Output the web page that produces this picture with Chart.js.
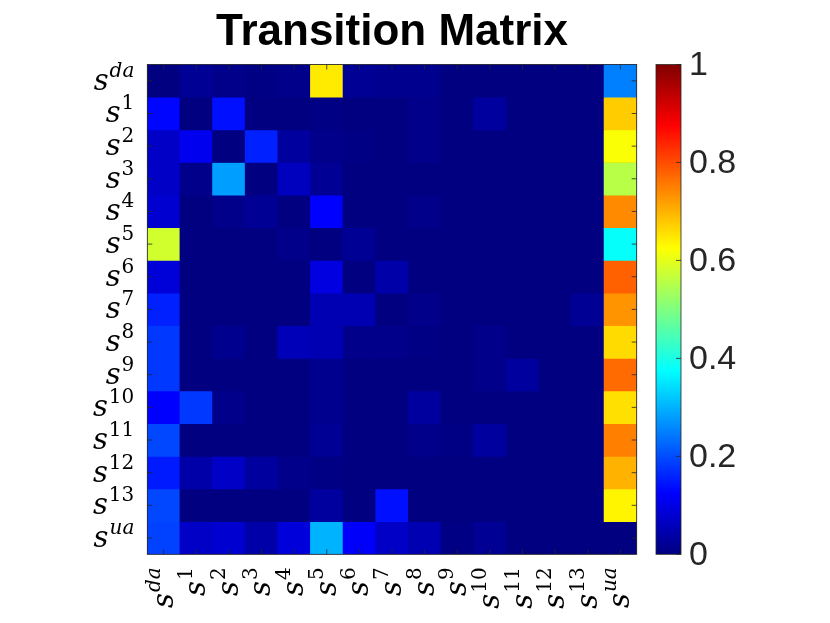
<!DOCTYPE html>
<html><head><meta charset="utf-8">
<script src="https://cdn.jsdelivr.net/npm/chart.js@4.4.0/dist/chart.umd.min.js"></script>
<style>
html,body{margin:0;padding:0;background:#fff;}
#wrap{position:relative;width:830px;height:623px;}
canvas{position:absolute;left:0;top:0;}
</style>
</head><body>
<div id="wrap"><canvas id="main" width="830" height="623"></canvas><canvas id="cbar" width="830" height="623"></canvas></div>
<script>
// ---- data ----
const titleText = 'Transition Matrix';
const stateBase = 's';
const stateSups = ['da','1','2','3','4','5','6','7','8','9','10','11','12','13','ua'];
const p_da = [0.00, 0.02, 0.01, 0.005, 0.01, 0.645, 0.02, 0.015, 0.015, 0, 0, 0, 0, 0, 0.25];
const p_1  = [0.13, 0.00, 0.14, 0.00, 0.00, 0.005, 0, 0, 0.01, 0, 0.03, 0, 0, 0, 0.675];
const p_2  = [0.07, 0.108, 0.00, 0.156, 0.03, 0.01, 0.005, 0, 0.01, 0, 0, 0, 0, 0, 0.62];
const p_3  = [0.07, 0.01, 0.28, 0.00, 0.062, 0.02, 0, 0, 0, 0, 0, 0, 0, 0, 0.555];
const p_4  = [0.08, 0.00, 0.01, 0.02, 0.00, 0.125, 0, 0, 0.01, 0, 0, 0, 0, 0, 0.74];
const p_5  = [0.58, 0, 0, 0, 0.01, 0, 0.02, 0, 0, 0, 0, 0, 0, 0, 0.38];
const p_6  = [0.087, 0, 0, 0, 0, 0.095, 0, 0.04, 0, 0, 0, 0, 0, 0, 0.78];
const p_7  = [0.156, 0, 0, 0, 0, 0.05, 0.05, 0, 0.01, 0, 0, 0, 0, 0.02, 0.73];
const p_8  = [0.18, 0, 0.015, 0, 0.055, 0.05, 0.01, 0.01, 0.005, 0, 0.01, 0, 0, 0, 0.66];
const p_9  = [0.18, 0, 0, 0, 0, 0.015, 0, 0, 0, 0, 0.01, 0.03, 0, 0, 0.77];
const p_10 = [0.125, 0.18, 0.01, 0, 0, 0.015, 0, 0, 0.03, 0, 0, 0, 0, 0, 0.655];
const p_11 = [0.195, 0, 0, 0, 0, 0.02, 0, 0, 0.01, 0.005, 0.03, 0, 0, 0, 0.75];
const p_12 = [0.15, 0.04, 0.07, 0.03, 0.01, 0.005, 0, 0, 0, 0, 0, 0, 0, 0, 0.70];
const p_13 = [0.195, 0, 0, 0, 0, 0.03, 0, 0.14, 0, 0, 0, 0, 0, 0, 0.635];
const p_ua = [0.19, 0.07, 0.08, 0.04, 0.09, 0.30, 0.12, 0.07, 0.05, 0.005, 0.02, 0, 0, 0, 0];
const rows = [p_da, p_1, p_2, p_3, p_4, p_5, p_6, p_7, p_8, p_9, p_10, p_11, p_12, p_13, p_ua];
const cbTicks = [0, 0.2, 0.4, 0.6, 0.8, 1];
const cbTickLabels = ['0', '0.2', '0.4', '0.6', '0.8', '1'];

// ---- jet colormap ----
function clamp01(x){ return Math.max(0, Math.min(1, x)); }
function jet(v){
  v = clamp01(v);
  const r = clamp01(1.5 - Math.abs(4*v - 3));
  const g = clamp01(1.5 - Math.abs(4*v - 2));
  const b = clamp01(1.5 - Math.abs(4*v - 1));
  return 'rgb(' + Math.round(r*255) + ',' + Math.round(g*255) + ',' + Math.round(b*255) + ')';
}

const AX = '#262626';
const W = 830, H = 623;
const plotL = 147.3, plotT = 64.5, plotR = 636.7, plotB = 554.3;
const cbL = 656, cbR = 681;

const SFONT = 'italic 29px "DejaVu Serif", serif';
const SUPFONT_IT = 'italic 20px "DejaVu Serif", serif';
const SUPFONT_UP = '20px "DejaVu Serif", serif';

function drawStateLabel(ctx, sup){
  const supFont = /^[0-9]+$/.test(sup) ? SUPFONT_UP : SUPFONT_IT;
  ctx.font = SFONT;
  const sw = ctx.measureText(stateBase).width;
  ctx.font = supFont;
  const pw = ctx.measureText(sup).width;
  const gap = 1;
  const x0 = -(sw + gap + pw);
  ctx.textAlign = 'left';
  ctx.textBaseline = 'alphabetic';
  ctx.font = SFONT;
  ctx.fillText(stateBase, x0, 9);
  ctx.font = supFont;
  ctx.fillText(sup, x0 + sw + gap, -4);
}

const axesPlugin = {
  id: 'axesDecor',
  beforeDatasetsDraw(chart){
    const {ctx, chartArea:a} = chart;
    ctx.save();
    ctx.fillStyle = jet(0);
    ctx.fillRect(a.left, a.top, a.right - a.left, a.bottom - a.top);
    ctx.restore();
  },
  afterDraw(chart){
    const {ctx, chartArea:a} = chart;
    const xs = chart.scales.x, ys = chart.scales.y;
    ctx.save();
    ctx.strokeStyle = AX;
    ctx.lineWidth = 0.8;
    ctx.strokeRect(a.left, a.top, a.right - a.left, a.bottom - a.top);
    const tl = 5;
    ctx.beginPath();
    for (let i = 0; i < stateSups.length; i++){
      const x = xs.getPixelForValue(i);
      ctx.moveTo(x, a.bottom); ctx.lineTo(x, a.bottom - tl);
      ctx.moveTo(x, a.top); ctx.lineTo(x, a.top + tl);
      const y = ys.getPixelForValue(i + 0.5);
      ctx.moveTo(a.left, y); ctx.lineTo(a.left + tl, y);
      ctx.moveTo(a.right, y); ctx.lineTo(a.right - tl, y);
    }
    ctx.stroke();
    ctx.fillStyle = '#000';
    for (let i = 0; i < stateSups.length; i++){
      const y = ys.getPixelForValue(i + 0.5);
      ctx.save();
      ctx.translate(a.left - 13, y);
      drawStateLabel(ctx, stateSups[i]);
      ctx.restore();
      const x = xs.getPixelForValue(i);
      ctx.save();
      ctx.translate(x, a.bottom + 13);
      ctx.rotate(-Math.PI/2);
      drawStateLabel(ctx, stateSups[i]);
      ctx.restore();
    }
    ctx.fillStyle = '#000';
    ctx.font = 'bold 44px "Liberation Sans", Arial, sans-serif';
    ctx.textAlign = 'center';
    ctx.textBaseline = 'alphabetic';
    ctx.fillText(titleText, (a.left + a.right)/2, 45);
    ctx.restore();
  }
};

new Chart(document.getElementById('main'), {
  type: 'bar',
  data: {
    labels: stateSups,
    datasets: rows.map((row, r) => ({
      label: stateSups[r],
      data: row.map(() => [r, r + 1]),
      backgroundColor: row.map(v => jet(v)),
      borderWidth: 0,
      grouped: false,
      barPercentage: 1,
      categoryPercentage: 1
    }))
  },
  options: {
    responsive: false,
    animation: false,
    events: [],
    layout: { padding: { left: plotL, top: plotT, right: W - plotR, bottom: H - plotB } },
    plugins: { legend: { display: false }, tooltip: { enabled: false }, title: { display: false } },
    scales: {
      x: { type: 'category', display: false, offset: true },
      y: { type: 'linear', display: false, min: 0, max: rows.length, reverse: true }
    }
  },
  plugins: [axesPlugin]
});

// ---- colorbar ----
function jetGradient(chart){
  const a = chart.chartArea;
  if (!a) return jet(0.5);
  const g = chart.ctx.createLinearGradient(0, a.bottom, 0, a.top);
  [0, 0.125, 0.375, 0.625, 0.875, 1].forEach(s => g.addColorStop(s, jet(s)));
  return g;
}

const cbPlugin = {
  id: 'cbDecor',
  afterDraw(chart){
    const {ctx, chartArea:a} = chart;
    const ys = chart.scales.y;
    ctx.save();
    ctx.strokeStyle = AX;
    ctx.lineWidth = 0.8;
    ctx.strokeRect(a.left, a.top, a.right - a.left, a.bottom - a.top);
    ctx.beginPath();
    cbTicks.forEach(t => {
      const y = ys.getPixelForValue(t);
      ctx.moveTo(a.right, y); ctx.lineTo(a.right - 5, y);
    });
    ctx.stroke();
    ctx.fillStyle = AX;
    ctx.font = '34px "Liberation Sans", Arial, sans-serif';
    ctx.textAlign = 'left';
    ctx.textBaseline = 'middle';
    cbTicks.forEach((t, i) => {
      ctx.fillText(cbTickLabels[i], a.right + 8, ys.getPixelForValue(t) + 1);
    });
    ctx.restore();
  }
};

new Chart(document.getElementById('cbar'), {
  type: 'bar',
  data: {
    labels: ['scale'],
    datasets: [{
      data: [[cbTicks[0], cbTicks[cbTicks.length - 1]]],
      backgroundColor: ctx => jetGradient(ctx.chart),
      borderWidth: 0,
      barPercentage: 1,
      categoryPercentage: 1
    }]
  },
  options: {
    responsive: false,
    animation: false,
    events: [],
    layout: { padding: { left: cbL, top: plotT, right: W - cbR, bottom: H - plotB } },
    plugins: { legend: { display: false }, tooltip: { enabled: false } },
    scales: {
      x: { type: 'category', display: false, offset: true },
      y: { type: 'linear', display: false, min: 0, max: 1 }
    }
  },
  plugins: [cbPlugin]
});
</script>
</body></html>
